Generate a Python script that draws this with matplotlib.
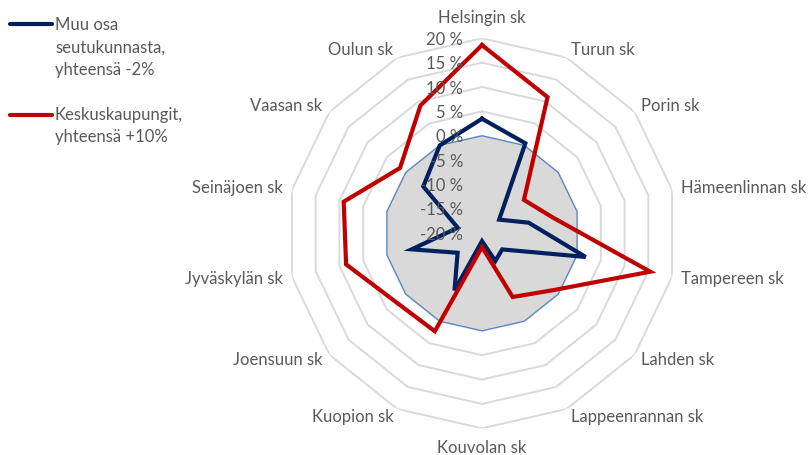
import numpy as np
import matplotlib
matplotlib.use("Agg")
import matplotlib.pyplot as plt
from matplotlib.lines import Line2D

plt.rcParams['font.family'] = ['Lato', 'DejaVu Sans']

categories = ['Helsingin sk', 'Turun sk', 'Porin sk', 'Hämeenlinnan sk', 'Tampereen sk',
              'Lahden sk', 'Lappeenrannan sk', 'Kouvolan sk', 'Kuopion sk', 'Joensuun sk',
              'Jyväskylän sk', 'Seinäjoen sk', 'Vaasan sk', 'Oulun sk']
muu_osa = [3.5, 0.5, -15.5, -10.2, 1.8, -14.7, -13.7, -18.4, -7.0, -13.6, -5.2, -14.9, -4.6, 0.0]
keskuskaupungit = [18.6, 11.0, -9.0, -5.2, 15.4, -1.3, -5.5, -17.2, 2.3, 2.6, 8.6, 9.1, 1.5, 9.1]
baseline = [0, 0, 0, 0, 0, 0, 0, 0, 0, 0, 0, 0, 0, 0]
ring_values = [-20, -15, -10, -5, 0, 5, 10, 15, 20]
ring_labels = ['-20 %', '-15 %', '-10 %', '-5 %', '0 %', '5 %', '10 %', '15 %', '20 %']
legend_labels = [['Muu osa', 'seutukunnasta,', 'yhteensä -2%'],
                 ['Keskuskaupungit,', 'yhteensä +10%']]

BLUE = '#002060'
RED = '#C00000'
TXT = '#595959'
GRID = '#D9D9D9'
FS = 12.0

W, H = 810, 455
fig = plt.figure(figsize=(W / 100, H / 100), dpi=100)
cx, cy, R = 482, 233.3, 195
ax = fig.add_axes([(cx - R) / W, (H - cy - R) / H, 2 * R / W, 2 * R / H], projection='polar')
ax.set_theta_zero_location('N')
ax.set_theta_direction(-1)
ax.set_ylim(-20, 20)
ax.grid(False)
ax.set_xticks([])
ax.set_yticks([])
ax.spines['polar'].set_visible(False)
ax.patch.set_alpha(0)

n = len(categories)
theta = np.arange(n) * 2 * np.pi / n
tc = np.append(theta, theta[0])

def closed(v):
    return list(v) + [v[0]]

for v in ring_values[1:]:
    ax.plot(tc, [v] * (n + 1), color=GRID, lw=1.4, zorder=1)

ax.fill(tc, closed(baseline), facecolor='#D9D9D9', edgecolor='#5585C0', lw=0.9, zorder=2)

ax.plot(tc, closed(muu_osa), color=BLUE, lw=3.0, solid_joinstyle='miter', zorder=3)
ax.plot(tc, closed(keskuskaupungit), color=RED, lw=3.0, solid_joinstyle='miter', zorder=4)

for v, lab in zip(ring_values, ring_labels):
    ax.annotate(lab, xy=(0, v), xytext=(-19, -1.5), textcoords='offset pixels',
                ha='right', va='center', fontsize=FS, color=TXT, zorder=6,
                annotation_clip=False)

for t, lab in zip(theta, categories):
    s, c = np.sin(t), np.cos(t)
    if abs(s) < 0.05:
        off = (0, 20 if c > 0 else -20)
        ha = 'center'
    else:
        off = (9 * s, 9 * c)
        ha = 'left' if s > 0 else 'right'
    ax.annotate(lab, xy=(t, 20), xytext=off, textcoords='offset pixels',
                ha=ha, va='center', fontsize=FS, color=TXT, annotation_clip=False)

# legend
leg_y = [[25, 48, 70], [115, 137]]
for col, y0, lines, ys in [(BLUE, 23.5, legend_labels[0], leg_y[0]),
                           (RED, 115, legend_labels[1], leg_y[1])]:
    fig.add_artist(Line2D([10 / W, 52 / W], [1 - y0 / H, 1 - y0 / H], color=col, lw=3.0,
                          solid_capstyle='round', transform=fig.transFigure))
    for txt, y in zip(lines, ys):
        fig.text(55 / W, 1 - y / H, txt, ha='left', va='center', fontsize=FS, color=TXT)

fig.savefig('out.png', dpi=100)
